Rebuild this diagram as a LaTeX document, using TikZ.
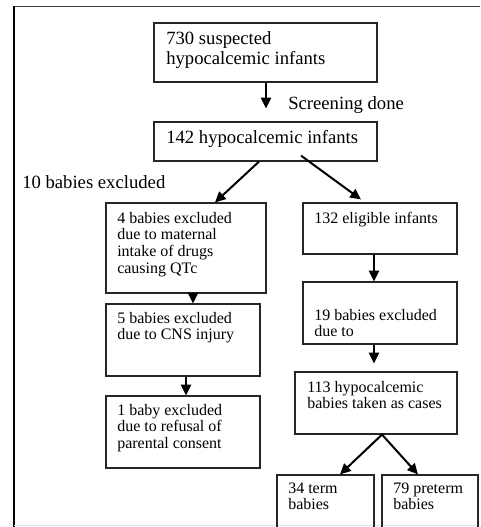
\documentclass[tikz,border=0pt]{standalone}
\usepackage{fontspec}
\setmainfont{Liberation Serif}
\usetikzlibrary{arrows.meta,fit,calc}
\newcommand\mylines[1]{\begin{tabular}[t]{@{}l@{}}#1\end{tabular}}
\tikzset{
  boxnode/.style={draw=black!85, line width=0.9pt, inner sep=0pt},
  bigtxt/.style={font=\fontsize{14}{15}\selectfont, anchor=base west, inner sep=0pt},
  smalltxt/.style={font=\fontsize{12}{12.6}\selectfont, anchor=base west, inner sep=0pt},
  arr/.style={line width=1.5pt, -{Triangle[length=8pt,width=7.5pt]}}
}
\begin{document}
\begin{tikzpicture}[x=0.75pt,y=-0.75pt]
\useasboundingbox (0,0) rectangle (480,527);
\clip (0,0) rectangle (480,527);
% frame
\draw[line width=1.2pt, black!75] (14,6.5) -- (482,6.5);
\draw[line width=1.5pt] (14,6) -- (14,530);
\draw[line width=1pt, black!12] (14,525.5) -- (480,525.5);
% boxes
\node[boxnode, fit={(154,23)(377,82)}] (b1) {};
\node[boxnode, fit={(154,122)(377,161)}] (b2) {};
\node[boxnode, fit={(106,203)(266,293)}] (b3) {};
\node[boxnode, fit={(106,304)(260,376)}] (b4) {};
\node[boxnode, fit={(106,396)(260,468)}] (b5) {};
\node[boxnode, fit={(303,203)(457,254)}] (b6) {};
\node[boxnode, fit={(303,282)(457,344)}] (b7) {};
\node[boxnode, fit={(295,372)(457,434)}] (b8) {};
\node[boxnode, fit={(277,475)(374,545)}] (b9) {};
\node[boxnode, fit={(382,475)(478,545)}] (b10) {};
% texts
\node[bigtxt] (t1) at (166,45) {\mylines{730 suspected\\hypocalcemic infants}};
\node[bigtxt] (t2) at (166,144) {142 hypocalcemic infants};
\node[bigtxt] (t3) at (288,110) {Screening done};
\node[bigtxt] (t4) at (22,189) {10 babies excluded};
\node[smalltxt] (t5) at (117,223) {\mylines{4 babies excluded\\due to maternal\\intake of drugs\\causing QTc}};
\node[smalltxt] (t6) at (117,323) {\mylines{5 babies excluded\\due to CNS injury}};
\node[smalltxt] (t7) at (117,415) {\mylines{1 baby excluded\\due to refusal of\\parental consent}};
\node[smalltxt] (t8) at (314,223) {132 eligible infants};
\node[smalltxt] (t9) at (314,320) {\mylines{19 babies excluded\\due to}};
\node[smalltxt] (t10) at (307,392) {\mylines{113 hypocalcemic\\babies taken as cases}};
\node[smalltxt] (t11) at (288,493) {\mylines{34 term\\babies}};
\node[smalltxt] (t12) at (393,493) {\mylines{79 preterm\\babies}};
% arrows
\draw[arr, shorten >=9.75pt] (b1.south -| 266,0) -- (b2.north -| 266,0);
\draw[arr] (b2.south -| 259,0) -- (b3.north -| 215,0);
\draw[arr, shorten >=3.75pt] ($(b2.south -| 301,0)+(0,-6)$) -- (b6.north -| 365,0);
\draw[arr] (b3.south -| 193,0) -- (b4.north -| 193,0);
\draw[arr] (b4.south -| 186,0) -- (b5.north -| 186,0);
\draw[arr] (b6.south -| 374,0) -- (b7.north -| 374,0);
\draw[arr, shorten >=6pt] (b7.south -| 374,0) -- (b8.north -| 374,0);
\draw[arr] (b8.south -| 382,0) -- (b9.north -| 340,0);
\draw[arr] (b8.south -| 382,0) -- (b10.north -| 418,0);
\end{tikzpicture}
\end{document}
